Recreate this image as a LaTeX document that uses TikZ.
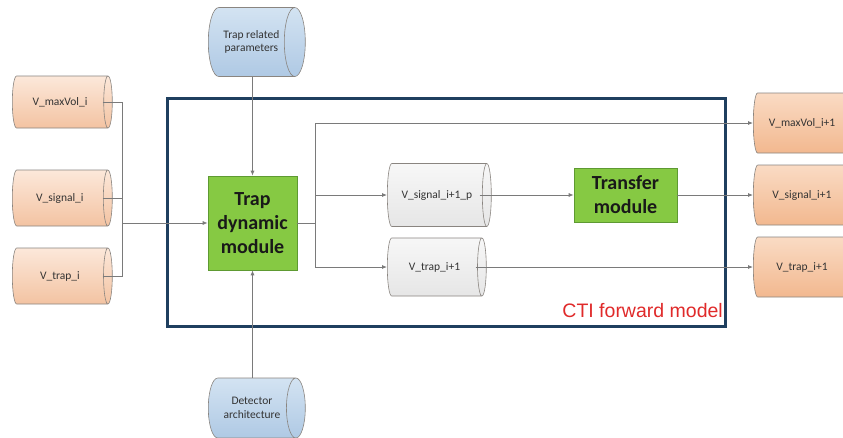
\documentclass[tikz,border=0pt]{standalone}
\usepackage{fontspec}
\setmainfont{Carlito}
\newfontfamily\arialfont{Liberation Sans}
\usetikzlibrary{shapes.geometric,arrows.meta}
\definecolor{peachT}{HTML}{FCE8DA}
\definecolor{peachB}{HTML}{F3C3A2}
\definecolor{peachRT}{HTML}{FADBC4}
\definecolor{peachRB}{HTML}{F2B88F}
\definecolor{blueT}{HTML}{D3E3F2}
\definecolor{blueB}{HTML}{AFC9E4}
\definecolor{grayT}{HTML}{F7F7F7}
\definecolor{grayB}{HTML}{E6E6E6}
\definecolor{modgreen}{HTML}{86C943}
\definecolor{modborder}{HTML}{5E9A32}
\definecolor{framecol}{HTML}{1F3F5F}
\definecolor{linecol}{HTML}{7A7A7A}
\definecolor{cylborder}{HTML}{8A8580}
\definecolor{ctired}{HTML}{E02A2A}
\begin{document}
\begin{tikzpicture}[x=1pt,y=-1pt,
  cyl/.style={shape=cylinder, aspect=0.9, draw=cylborder, line width=0.6pt,
    inner sep=0pt, anchor=west, text=black!80,
    font=\fontsize{11.5}{13.5}\selectfont, align=center},
  cw/.style={minimum height=#1},
  ch/.style={minimum width=#1},
  lcyl/.style={cyl, top color=peachT, bottom color=peachB, cw=100pt, ch=52pt},
  rcyl/.style={cyl, top color=peachRT, bottom color=peachRB, cw=102pt, ch=60pt},
  bcyl/.style={cyl, top color=blueT, bottom color=blueB, cw=97pt},
  gcyl/.style={cyl, top color=grayT, bottom color=grayB},
  module/.style={draw=modborder, fill=modgreen, line width=0.6pt, inner sep=0pt,
    text=black!90, font=\fontsize{20}{24}\selectfont\bfseries, align=center},
  conn/.style={draw=linecol, line width=0.8pt},
  arr/.style={conn, -{Latex[length=5pt,width=4pt]}},
  frame/.style={draw=framecol, line width=3pt, inner sep=0pt}
]
\useasboundingbox (0,0) rectangle (843,437);
\clip (0,0) rectangle (843,437);
\fill[white] (0,0) rectangle (843,437);

% frame
\node[frame, minimum width=558pt, minimum height=228pt] (cti) at (446,212) {};
\node[anchor=base east, text=ctired, font=\arialfont\fontsize{19.5}{22}\selectfont, inner sep=0pt] (ctilbl) at (723,317) {CTI forward model};

% left cylinders
\node[lcyl] (mvi) at (12,102) {V\_maxVol\_i};
\node[lcyl, ch=56pt] (sgi) at (12,198) {V\_signal\_i};
\node[lcyl, ch=56pt] (tri) at (12,276) {V\_trap\_i};

% top & bottom
\node[bcyl, ch=69pt] (trp) at (208,42) {Trap related\\parameters};
\node[bcyl, ch=60pt] (det) at (208,408) {Detector\\architecture};

% modules
\node[module, minimum width=89pt, minimum height=94pt] (tdm) at (252.5,223) {Trap\\dynamic\\module};
\node[module, minimum width=103pt, minimum height=54pt] (tfm) at (625.5,195) {Transfer\\module};

% gray cylinders
\node[gcyl, cw=104pt, ch=63pt] (sgp) at (387,195) {V\_signal\_i+1\_p};
\node[gcyl, cw=99pt, ch=58pt] (trn) at (387,267) {V\_trap\_i+1};

% right cylinders
\node[rcyl] (mvo) at (753,123) {V\_maxVol\_i+1};
\node[rcyl] (sgo) at (753,195) {V\_signal\_i+1};
\node[rcyl] (tro) at (753,267) {V\_trap\_i+1};

% junction coordinates
\coordinate (jl) at (122,223);
\coordinate (jr) at (315,223);

% left merge
\draw[conn] ([xshift=-10pt]mvi.east) -| (jl);
\draw[conn] ([xshift=-10pt]tri.east) -| (jl);
\draw[conn] ([xshift=-10pt]sgi.east) -| (jl);
\draw[arr] (jl) -- (tdm.west);

% top/bottom inputs
\draw[arr] (trp.south -| tdm.north) -- (tdm.north);
\draw[arr] (det.north -| tdm.south) -- (tdm.south);

% outputs
\draw[conn] (tdm.east) -- (jr);
\draw[arr] (jr) |- (mvo.west);
\draw[arr] (jr) |- (sgp.west);
\draw[arr] (jr) |- (trn.west);
\draw[arr] ([xshift=-12pt]sgp.east) -- (sgp.east -| tfm.west);
\draw[arr] (tfm.east) -- (tfm.east -| sgo.west);
\draw[arr] ([xshift=-11pt]trn.east) -- (trn.east -| tro.west);
\end{tikzpicture}
\end{document}
